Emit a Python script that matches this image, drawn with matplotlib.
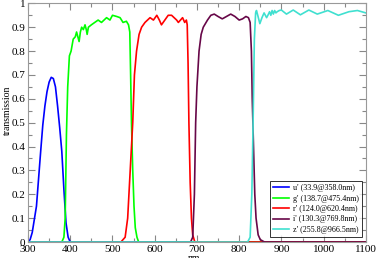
import matplotlib
matplotlib.use('Agg')
import matplotlib.pyplot as plt
from matplotlib.ticker import MultipleLocator

plt.rcParams['font.family'] = 'Liberation Serif'

# filter transmission curves (wavelength in nm, transmission)
u_wl = [300, 305, 310, 320, 330, 335, 340, 345, 350, 355, 360, 365, 370, 375, 380, 385, 390, 395, 400, 1100]
u_tr = [0.0, 0.01, 0.04, 0.15, 0.38, 0.49, 0.57, 0.63, 0.67, 0.69, 0.685, 0.65, 0.57, 0.48, 0.38, 0.22, 0.08, 0.02, 0.0, 0.0]

g_wl = [300, 380, 385, 388, 391, 394, 398, 402, 407, 412, 415, 418, 421, 424, 427, 431, 435, 438, 440, 443,
        450, 458, 466, 474, 480, 486, 494, 500, 510, 518, 525, 533, 538, 541, 543, 545, 548, 551, 554, 558, 562, 1100]
g_tr = [0.0, 0.0, 0.02, 0.1, 0.45, 0.65, 0.78, 0.8, 0.85, 0.86, 0.88, 0.86, 0.84, 0.88, 0.9, 0.89, 0.91, 0.89, 0.87, 0.9,
        0.91, 0.92, 0.93, 0.92, 0.93, 0.94, 0.93, 0.95, 0.945, 0.94, 0.92, 0.925, 0.91, 0.88, 0.7, 0.5, 0.3, 0.15, 0.06, 0.02, 0.0, 0.0]

r_wl = [300, 520, 530, 536, 542, 548, 552, 557, 563, 569, 577, 583, 589, 597, 605, 611, 616, 624, 632, 640,
        646, 652, 656, 661, 666, 671, 675, 677, 679, 681, 684, 687, 690, 695, 1100]
r_tr = [0.0, 0.0, 0.02, 0.1, 0.3, 0.5, 0.7, 0.8, 0.87, 0.9, 0.92, 0.93, 0.94, 0.93, 0.95, 0.93, 0.91, 0.93, 0.95, 0.95,
        0.94, 0.93, 0.92, 0.93, 0.94, 0.92, 0.93, 0.91, 0.75, 0.5, 0.25, 0.1, 0.03, 0.0, 0.0]

i_wl = [300, 685, 690, 694, 697, 700, 705, 710, 715, 725, 733, 741, 750, 760, 770, 780, 790, 800, 808, 816,
        822, 826, 829, 831, 834, 837, 840, 845, 850, 860, 1100]
i_tr = [0.0, 0.0, 0.02, 0.2, 0.5, 0.65, 0.8, 0.87, 0.9, 0.93, 0.95, 0.955, 0.945, 0.935, 0.945, 0.955, 0.945, 0.93, 0.935, 0.945,
        0.94, 0.92, 0.8, 0.6, 0.4, 0.2, 0.1, 0.03, 0.01, 0.0, 0.0]

z_wl = [300, 820, 826, 830, 833, 836, 839, 841, 844, 849, 854, 859, 865, 868, 872, 875, 878, 881, 884, 887,
        890, 895, 900, 912, 928, 945, 965, 985, 1010, 1035, 1060, 1080, 1100]
z_tr = [0.0, 0.0, 0.02, 0.2, 0.5, 0.85, 0.96, 0.97, 0.95, 0.915, 0.94, 0.96, 0.94, 0.95, 0.965, 0.95, 0.97, 0.955, 0.97, 0.96,
        0.965, 0.97, 0.972, 0.955, 0.972, 0.952, 0.972, 0.955, 0.97, 0.95, 0.965, 0.97, 0.96]

labels = ["u' (33.9@358.0nm)", "g' (138.7@475.4nm)", "r' (124.0@620.4nm)",
          "i' (130.3@769.8nm)", "z' (255.8@966.5nm)"]
colors = ['#0000ff', '#00ff00', '#ff0000', '#670748', '#40e0d0']

fig = plt.figure(figsize=(3.76, 2.58), dpi=100)
ax = fig.add_axes([0.0745, 0.062, 0.8985, 0.925])

curves = [(u_wl, u_tr), (g_wl, g_tr), (r_wl, r_tr), (i_wl, i_tr), (z_wl, z_tr)]
for (wl, tr), c, lab in zip(curves, colors, labels):
    ax.plot(wl, tr, color=c, linewidth=1.2, label=lab)

ax.set_xlim(300, 1100)
ax.set_ylim(0, 1)
ax.xaxis.set_major_locator(MultipleLocator(100))
ax.xaxis.set_minor_locator(MultipleLocator(50))
ax.yaxis.set_major_locator(MultipleLocator(0.1))
ax.yaxis.set_minor_locator(MultipleLocator(0.05))
ax.yaxis.set_major_formatter(plt.FuncFormatter(lambda v, p: '%g' % round(v, 2)))

ax.tick_params(which='both', direction='in', top=True, right=True, color='#888888',
               labelsize=8, pad=2)
ax.tick_params(which='major', length=5, width=0.8)
ax.tick_params(which='minor', length=3, width=0.8)
for sp in ax.spines.values():
    sp.set_color('#999999')
    sp.set_linewidth(0.8)

ax.set_xlabel('nm', fontsize=7)
ax.xaxis.set_label_coords(0.49, -0.052)
ax.set_ylabel('transmission', fontsize=7)
ax.yaxis.set_label_coords(-0.047, 0.55)

leg = ax.legend(loc='lower right', bbox_to_anchor=(0.963, 0.083), bbox_transform=fig.transFigure,
                borderaxespad=0, fontsize=5.8, frameon=True, fancybox=False, handlelength=1.9,
                handletextpad=0.6, labelspacing=0.3, borderpad=0.35)
leg.get_frame().set_edgecolor('black')
leg.get_frame().set_linewidth(0.7)
for line in leg.get_lines():
    line.set_linewidth(1.2)

fig.savefig('out.png', dpi=100)
